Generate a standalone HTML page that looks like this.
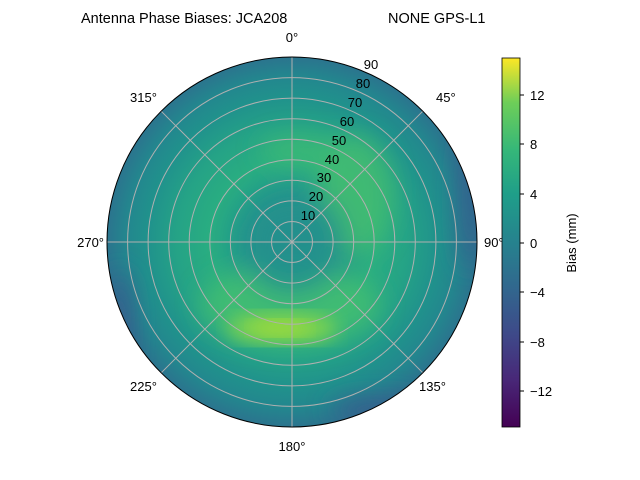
<!DOCTYPE html>
<html><head><style>body{margin:0;background:#fff}svg{display:block}text{font-family:"Liberation Sans",sans-serif;font-size:13px;fill:#000}</style></head><body>
<svg width="640" height="480" viewBox="0 0 640 480">
<defs>
<radialGradient id="rg" cx="292" cy="242" r="185" gradientUnits="userSpaceOnUse">
<stop offset="0" stop-color="#21908d"/><stop offset="0.25" stop-color="#22998a"/><stop offset="0.45" stop-color="#29ad81"/><stop offset="0.62" stop-color="#25a386"/><stop offset="0.78" stop-color="#20928c"/><stop offset="0.9" stop-color="#23868e"/><stop offset="1" stop-color="#2b748e"/>
</radialGradient>
<filter id="b"><feGaussianBlur stdDeviation="12"/></filter>
<filter id="b2"><feGaussianBlur stdDeviation="9"/></filter>
<clipPath id="c"><circle cx="292" cy="242" r="185"/></clipPath>
<linearGradient id="vir" x1="0" y1="1" x2="0" y2="0">
<stop offset="0" stop-color="#440154"/><stop offset="0.13" stop-color="#482878"/><stop offset="0.25" stop-color="#3e4989"/><stop offset="0.38" stop-color="#31688e"/><stop offset="0.5" stop-color="#26828e"/><stop offset="0.63" stop-color="#1f9e89"/><stop offset="0.75" stop-color="#35b779"/><stop offset="0.88" stop-color="#6ece58"/><stop offset="1" stop-color="#fde725"/>
</linearGradient>
</defs>
<g clip-path="url(#c)">
<circle cx="292" cy="242" r="185" fill="url(#rg)"/>
<g filter="url(#b)">
<ellipse cx="355" cy="195" rx="38" ry="60" fill="#45bf6f" opacity="0.75"/>
<ellipse cx="300" cy="150" rx="40" ry="14" fill="#45bf6f" opacity="0.7"/>
<ellipse cx="290" cy="305" rx="90" ry="40" fill="#45bf6f" opacity="0.8"/>
<circle cx="292" cy="242" r="50" fill="#21908d" opacity="0.9"/>
<ellipse cx="470" cy="200" rx="10" ry="70" fill="#355f8d"/>
<ellipse cx="120" cy="330" rx="12" ry="60" fill="#355f8d"/>
<ellipse cx="380" cy="410" rx="50" ry="12" fill="#355f8d"/>
</g>
<ellipse cx="282" cy="328" rx="55" ry="16" fill="#7fd34e" filter="url(#b2)"/>
<ellipse cx="280" cy="328" rx="30" ry="8" fill="#9ad93c" filter="url(#b2)"/>
</g>
<g stroke="#b0b0b0" stroke-width="1" fill="none">
<circle cx="292" cy="242" r="20.5"/><circle cx="292" cy="242" r="41.1"/><circle cx="292" cy="242" r="61.7"/><circle cx="292" cy="242" r="82.2"/><circle cx="292" cy="242" r="102.8"/><circle cx="292" cy="242" r="123.3"/><circle cx="292" cy="242" r="143.9"/><circle cx="292" cy="242" r="164.4"/>
<line x1="292" y1="57" x2="292" y2="427"/><line x1="107" y1="242" x2="477" y2="242"/>
<line x1="161.2" y1="111.2" x2="422.8" y2="372.8"/><line x1="422.8" y1="111.2" x2="161.2" y2="372.8"/>
</g>
<circle cx="292" cy="242" r="185" fill="none" stroke="#000" stroke-width="1"/>
<text x="81" y="23" style="font-size:14.5px">Antenna Phase Biases: JCA208</text><text x="388" y="23" style="font-size:14.5px">NONE GPS-L1</text>
<text x="292" y="42" text-anchor="middle">0°</text>
<text x="436" y="102">45°</text>
<text x="484" y="247">90°</text>
<text x="419" y="391">135°</text>
<text x="292" y="451" text-anchor="middle">180°</text>
<text x="130" y="391">225°</text>
<text x="104" y="247" text-anchor="end">270°</text>
<text x="130" y="102">315°</text>
<g text-anchor="middle">
<text x="308" y="220">10</text><text x="316" y="201">20</text><text x="324" y="182">30</text><text x="332" y="164">40</text><text x="339" y="145">50</text><text x="347" y="126">60</text><text x="355" y="107">70</text><text x="363" y="88">80</text><text x="371" y="69">90</text>
</g>
<rect x="502" y="58" width="18" height="369" fill="url(#vir)"/>
<rect x="502" y="58" width="18" height="369" fill="none" stroke="#000" stroke-width="0.8"/>
<g stroke="#000"><line x1="520" y1="95" x2="524" y2="95"/><line x1="520" y1="144" x2="524" y2="144"/><line x1="520" y1="194" x2="524" y2="194"/><line x1="520" y1="243" x2="524" y2="243"/><line x1="520" y1="292" x2="524" y2="292"/><line x1="520" y1="342" x2="524" y2="342"/><line x1="520" y1="391" x2="524" y2="391"/></g>
<text x="530" y="100">12</text><text x="530" y="149">8</text><text x="530" y="199">4</text><text x="530" y="248">0</text><text x="530" y="297">−4</text><text x="530" y="347">−8</text><text x="530" y="396">−12</text>
<text transform="translate(576,243) rotate(-90)" text-anchor="middle">Bias (mm)</text>
</svg>
</body></html>
